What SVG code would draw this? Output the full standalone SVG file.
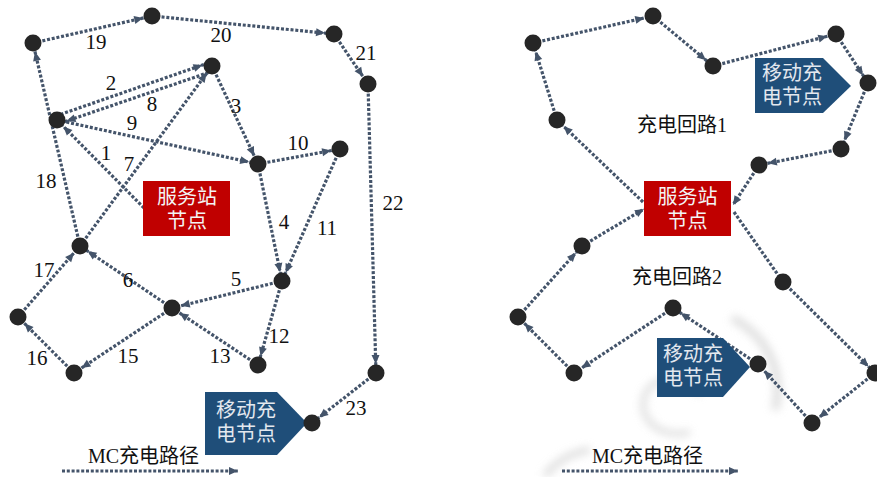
<svg xmlns="http://www.w3.org/2000/svg" width="877" height="477" viewBox="0 0 877 477">
<style>
.e{fill:none;stroke:#44546A;stroke-width:3.2;stroke-dasharray:3 1.8}
.a{marker-end:url(#an)}
.b{marker-end:url(#ab)}
.n{fill:#262626}
.lbl{font-family:"Liberation Serif","Noto Sans CJK SC",serif;font-size:21px;fill:#111;text-anchor:middle}
.cj{font-family:"Liberation Serif","Noto Sans CJK SC",serif;font-size:20px;fill:#111}
.wt{font-family:"Liberation Sans","Noto Sans CJK SC",sans-serif;font-size:20px;fill:#f4f4f4;text-anchor:middle}
.mt{font-family:"Liberation Sans","Noto Sans CJK SC",sans-serif;font-size:20px;fill:#e3e8ef;text-anchor:middle}
</style>
<defs>
<marker id="an" markerUnits="userSpaceOnUse" markerWidth="30" markerHeight="12" refX="18" refY="4" orient="auto" overflow="visible">
<path d="M0,0 L9,4 L0,8 z" fill="#44546A"/>
</marker>
<marker id="ab" markerUnits="userSpaceOnUse" markerWidth="30" markerHeight="12" refX="9" refY="4" orient="auto" overflow="visible">
<path d="M0,0 L9,4 L0,8 z" fill="#44546A"/>
</marker>
<filter id="blur" x="-50%" y="-50%" width="200%" height="200%"><feGaussianBlur stdDeviation="4"/></filter>
</defs>

<g id="swirl" filter="url(#blur)" fill="none" stroke="#d4d4d4" opacity="0.75">
<path d="M700,395 C690,375 655,372 645,395 C636,418 660,440 690,432" stroke-width="6"/>
<path d="M732,318 C765,335 785,370 775,410" stroke-width="8"/>
<path d="M545,476 C555,462 572,452 590,450" stroke-width="7"/>
</g>

<g id="connectors">
<!-- left -->
<path class="e a" d="M144,208 L57,120"/>
<path class="e a" d="M56,116 L211,62"/>
<path class="e a" d="M212,66 L258,164"/>
<path class="e a" d="M258,164 L282,281"/>
<path class="e a" d="M282,281 L172,308"/>
<path class="e a" d="M172,308 L80,246"/>
<path class="e a" d="M80,246 L212,66"/>
<path class="e a" d="M213,71 L58,124"/>
<path class="e a" d="M57,120 L258,164"/>
<path class="e a" d="M258,164 L340,149"/>
<path class="e a" d="M340,149 L282,281"/>
<path class="e a" d="M282,281 L258,365"/>
<path class="e a" d="M258,365 L172,308"/>
<path class="e a" d="M172,308 L74,373"/>
<path class="e a" d="M74,373 L18,317"/>
<path class="e a" d="M18,317 L80,246"/>
<path class="e a" d="M80,246 L33,43"/>
<path class="e a" d="M33,43 L152,16"/>
<path class="e a" d="M152,16 L334,34"/>
<path class="e a" d="M334,34 L368,84"/>
<path class="e a" d="M368,84 L376,373"/>
<path class="e a" d="M376,373 L312,423"/>
<path class="e b" d="M62,471 L238,471"/>
<!-- right -->
<path class="e a" d="M643,202 L557,120"/>
<path class="e a" d="M557,120 L533,43"/>
<path class="e a" d="M533,43 L653,16"/>
<path class="e a" d="M653,16 L713,66"/>
<path class="e a" d="M713,66 L836,34"/>
<path class="e a" d="M836,34 L868,83"/>
<path class="e a" d="M868,83 L841,149"/>
<path class="e a" d="M841,149 L759,165"/>
<path class="e b" d="M759,165 L733,205"/>
<path class="e" d="M734,212 L783,282"/>
<path class="e a" d="M783,282 L875,373"/>
<path class="e a" d="M875,373 L812,423"/>
<path class="e a" d="M812,423 L758,364"/>
<path class="e a" d="M758,364 L673,308"/>
<path class="e a" d="M673,308 L574,373"/>
<path class="e a" d="M574,373 L518,317"/>
<path class="e a" d="M518,317 L582,246"/>
<path class="e b" d="M582,246 L644,209"/>
<path class="e b" d="M562,471 L738,471"/>
</g>

<g id="labels">
<text class="lbl" x="96" y="49">19</text>
<text class="lbl" x="221" y="42">20</text>
<text class="lbl" x="366" y="60">21</text>
<text class="lbl" x="111" y="90">2</text>
<text class="lbl" x="152" y="111">8</text>
<text class="lbl" x="236" y="113">3</text>
<text class="lbl" x="132" y="130">9</text>
<text class="lbl" x="106" y="160">1</text>
<text class="lbl" x="129" y="171">7</text>
<text class="lbl" x="298" y="150">10</text>
<text class="lbl" x="46" y="188">18</text>
<text class="lbl" x="393" y="210">22</text>
<text class="lbl" x="284" y="229">4</text>
<text class="lbl" x="327" y="235">11</text>
<text class="lbl" x="44" y="277">17</text>
<text class="lbl" x="128" y="287">6</text>
<text class="lbl" x="236" y="286">5</text>
<text class="lbl" x="279" y="343">12</text>
<text class="lbl" x="37" y="365">16</text>
<text class="lbl" x="128" y="363">15</text>
<text class="lbl" x="220" y="363">13</text>
<text class="lbl" x="356" y="415">23</text>
<text class="cj" x="88" y="463">MC充电路径</text>
<text class="cj" x="592" y="463">MC充电路径</text>
<text class="cj" x="637" y="132">充电回路1</text>
<text class="cj" x="632" y="284">充电回路2</text>
</g>

<g id="station-left">
<rect x="143" y="181" width="87" height="55" fill="#C00000"/>
<text class="wt"><tspan x="187" y="204">服务站</tspan><tspan x="187" y="228">节点</tspan></text>
</g>
<g id="mc-left">
<polygon points="205,392 277,392 307,423 277,455 205,455" fill="#1F4E79"/>
<text class="mt"><tspan x="246" y="417">移动充</tspan><tspan x="246" y="441">电节点</tspan></text>
</g>
<g id="station-right">
<rect x="644" y="181" width="87" height="55" fill="#C00000"/>
<text class="wt"><tspan x="687.5" y="204">服务站</tspan><tspan x="687.5" y="228">节点</tspan></text>
</g>
<g id="mc-right-1">
<polygon points="755,58 823,58 851,86 823,113 755,113" fill="#1F4E79"/>
<text class="mt"><tspan x="792" y="80">移动充</tspan><tspan x="792" y="104">电节点</tspan></text>
</g>
<g id="mc-right-2">
<polygon points="657,338 723,338 750,367 723,397 657,397" fill="#1F4E79"/>
<text class="mt"><tspan x="693" y="361">移动充</tspan><tspan x="693" y="385">电节点</tspan></text>
</g>

<g id="nodes-left">
<circle id="nA" class="n" cx="33" cy="43" r="8.5"/>
<circle id="nB" class="n" cx="152" cy="16" r="8.5"/>
<circle id="nC" class="n" cx="334" cy="34" r="8.5"/>
<circle id="nD" class="n" cx="368" cy="84" r="8.5"/>
<circle id="nE" class="n" cx="212" cy="66" r="8.5"/>
<circle id="nF" class="n" cx="57" cy="120" r="8.5"/>
<circle id="nG" class="n" cx="258" cy="164" r="8.5"/>
<circle id="nH" class="n" cx="340" cy="149" r="8.5"/>
<circle id="nI" class="n" cx="80" cy="246" r="8.5"/>
<circle id="nJ" class="n" cx="282" cy="281" r="8.5"/>
<circle id="nK" class="n" cx="172" cy="308" r="8.5"/>
<circle id="nL" class="n" cx="18" cy="317" r="8.5"/>
<circle id="nM" class="n" cx="74" cy="373" r="8.5"/>
<circle id="nN" class="n" cx="258" cy="365" r="8.5"/>
<circle id="nO" class="n" cx="376" cy="373" r="8.5"/>
<circle id="nP" class="n" cx="312" cy="423" r="8.5"/>
</g>
<g id="nodes-right">
<circle id="r1" class="n" cx="533" cy="43" r="8.5"/>
<circle id="r2" class="n" cx="653" cy="16" r="8.5"/>
<circle id="r3" class="n" cx="713" cy="66" r="8.5"/>
<circle id="r4" class="n" cx="836" cy="34" r="8.5"/>
<circle id="r5" class="n" cx="868" cy="83" r="8.5"/>
<circle id="r6" class="n" cx="841" cy="149" r="8.5"/>
<circle id="r7" class="n" cx="759" cy="165" r="8.5"/>
<circle id="r8" class="n" cx="557" cy="120" r="8.5"/>
<circle id="r9" class="n" cx="582" cy="246" r="8.5"/>
<circle id="r10" class="n" cx="518" cy="317" r="8.5"/>
<circle id="r11" class="n" cx="574" cy="373" r="8.5"/>
<circle id="r12" class="n" cx="673" cy="308" r="8.5"/>
<circle id="r13" class="n" cx="758" cy="364" r="8.5"/>
<circle id="r14" class="n" cx="812" cy="423" r="8.5"/>
<circle id="r15" class="n" cx="875" cy="373" r="8.5"/>
<circle id="r16" class="n" cx="783" cy="282" r="8.5"/>
</g>
</svg>
